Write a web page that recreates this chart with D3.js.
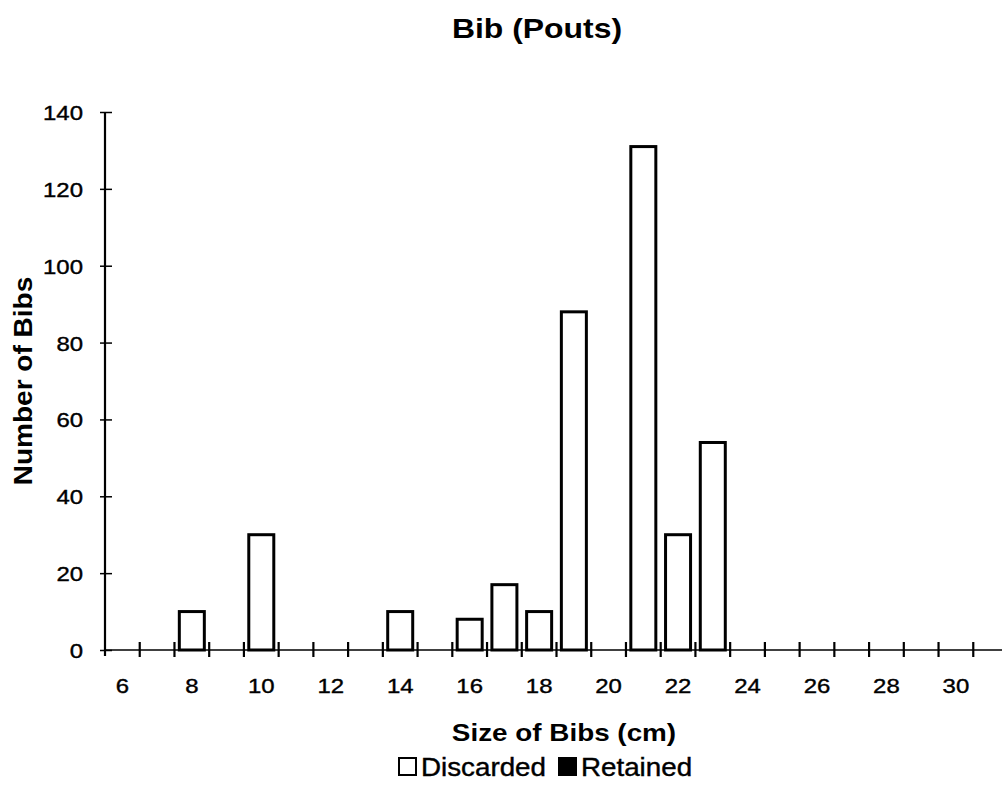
<!DOCTYPE html>
<html>
<head>
<meta charset="utf-8">
<script src="https://cdn.jsdelivr.net/npm/d3@7"></script>
<style>
  body { margin: 0; background: #fff; }
  text { font-family: "Liberation Sans", Arial, sans-serif; fill: #000; }
</style>
</head>
<body>
<div id="svgRoot"></div>
<script>
// sizes of bibs (cm), one band per cm
const sizes = d3.range(6, 32);
const discarded = [0, 0, 10, 0, 30, 0, 0, 0, 10, 0, 8, 17, 10, 88, 0, 131, 30, 54, 0, 0, 0, 0, 0, 0, 0, 0];
const retained  = [0, 0, 0, 0, 0, 0, 0, 0, 0, 0, 0, 0, 0, 0, 0, 0, 0, 0, 0, 0, 0, 0, 0, 0, 0, 0];
const xTickLabels = [6, 8, 10, 12, 14, 16, 18, 20, 22, 24, 26, 28, 30];
const yTicks = [0, 20, 40, 60, 80, 100, 120, 140];
const seriesNames = ["Discarded", "Retained"];

const W = 1002, H = 787;
const svg = d3.select("#svgRoot").append("svg")
  .attr("width", W).attr("height", H);

// stretch text a bit wider, the scanned font is wider than Arial
function stretch(sel, k) {
  sel.each(function () {
    const len = this.getComputedTextLength();
    d3.select(this).attr("textLength", len * k).attr("lengthAdjust", "spacingAndGlyphs");
  });
}

const pad = 0.28;
const x = d3.scaleBand().domain(sizes).range([105, 1008])
  .paddingInner(pad).paddingOuter(pad / 2);
const y = d3.scaleLinear().domain([0, 140]).range([650, 112]);
const step = x.step();

// bars (retained stacked on top of discarded)
const rows = sizes.map((s, i) => ({ size: s, Discarded: discarded[i], Retained: retained[i] }));
const stacked = d3.stack().keys(seriesNames)(rows);
const fills = { Discarded: "#fff", Retained: "#000" };

svg.append("g").selectAll("g")
  .data(stacked)
  .enter().append("g")
  .attr("fill", d => fills[d.key])
  .selectAll("rect")
  .data(d => d.filter(v => v[1] - v[0] > 0))
  .enter().append("rect")
  .attr("x", d => x(d.data.size))
  .attr("width", x.bandwidth())
  .attr("y", d => y(d[1]))
  .attr("height", d => y(d[0]) - y(d[1]))
  .attr("stroke", "#000")
  .attr("stroke-width", 3);

// x axis: line with ticks at band boundaries
const xg = svg.append("g").attr("transform", "translate(0," + y(0) + ")");
xg.append("line").attr("x1", 105).attr("x2", 1008)
  .attr("stroke", "#000").attr("stroke-width", 1.6);
xg.selectAll(".bt")
  .data(d3.range(1, sizes.length))
  .enter().append("line")
  .attr("x1", i => 105 + i * step).attr("x2", i => 105 + i * step)
  .attr("y1", -8).attr("y2", 7)
  .attr("stroke", "#000").attr("stroke-width", 2.2);
xg.selectAll(".lbl")
  .data(xTickLabels)
  .enter().append("text")
  .attr("x", d => x(d) + x.bandwidth() / 2)
  .attr("y", 43)
  .attr("text-anchor", "middle")
  .style("font-size", "21px")
  .style("stroke", "#000").style("stroke-width", 0.4)
  .text(d => d)
  .call(stretch, 1.14);

// y axis
const yg = svg.append("g").attr("transform", "translate(105,0)")
  .call(d3.axisLeft(y).tickValues(yTicks).tickSizeOuter(0).tickSize(5));
yg.select(".domain").remove();
yg.append("line").attr("y1", y(140)).attr("y2", 656)
  .attr("stroke", "#000").attr("stroke-width", 2.2);
yg.selectAll(".tick line").attr("x1", 7).attr("x2", -5).attr("stroke-width", 1.5);
yg.selectAll(".tick text")
  .attr("x", -22)
  .attr("dy", "0.36em")
  .style("font-size", "21px")
  .style("font-family", '"Liberation Sans", Arial, sans-serif')
  .style("stroke", "#000").style("stroke-width", 0.4)
  .attr("fill", "#000")
  .call(stretch, 1.14);

// titles
svg.append("text")
  .text("Bib (Pouts)")
  .attr("x", 537).attr("y", 38)
  .attr("text-anchor", "middle")
  .style("font-size", "28px").style("font-weight", "bold")
  .call(stretch, 1.14);

svg.append("text")
  .text("Number of Bibs")
  .attr("transform", "translate(32,381) rotate(-90)")
  .attr("text-anchor", "middle")
  .style("font-size", "25px").style("font-weight", "bold")
  .call(stretch, 1.12);

svg.append("text")
  .text("Size of Bibs (cm)")
  .attr("x", 564).attr("y", 741)
  .attr("text-anchor", "middle")
  .style("font-size", "24px").style("font-weight", "bold")
  .call(stretch, 1.16);

// legend
const legendX = [398, 558];
const lg = svg.append("g").selectAll("g")
  .data(seriesNames)
  .enter().append("g")
  .attr("transform", (d, i) => "translate(" + legendX[i] + ",757)");
lg.append("rect")
  .attr("x", 1).attr("y", 1).attr("width", 17).attr("height", 17)
  .attr("fill", d => fills[d]).attr("stroke", "#000").attr("stroke-width", 2);
lg.append("text")
  .attr("x", 23).attr("y", 18.5)
  .style("font-size", "25px")
  .style("stroke", "#000").style("stroke-width", 0.4)
  .text(d => d)
  .call(stretch, 1.11);
</script>
</body>
</html>
